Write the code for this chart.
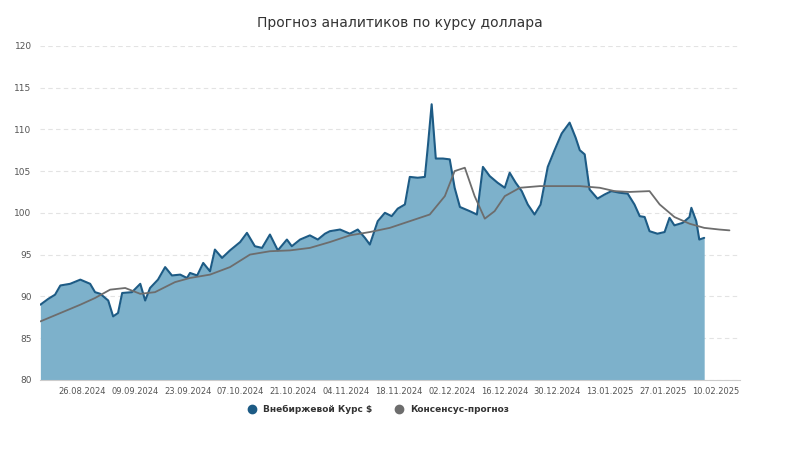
import numpy as np, pandas as pd, matplotlib
matplotlib.use("Agg")
import matplotlib.pyplot as plt, seaborn as sns
from matplotlib.lines import Line2D

base = pd.Timestamp("2024-08-26")
rate_days = [-11.1,-9,-7.2,-5.8,-3.2,-0.5,2.1,3.4,4.8,6.9,8.2,9.5,10.6,13.2,15.4,16.7,18,20.1,22,23.8,26,27.8,28.6,30.5,32.1,33.9,35.2,37.1,39.2,41.9,43.7,45.8,47.7,49.8,51.9,54.3,55.6,57.8,60.4,62.5,64.4,65.7,68.4,71,73.1,75,76.3,78.4,80.3,82.1,83.7,85.6,86.9,89,90.9,91.7,92.7,93.8,95.7,97.5,98.8,100.2,102.8,104.7,106.3,108.1,110.2,112.1,113.4,115,116.6,118.2,120,121.6,123.5,125.3,127.2,129.3,130.9,132,133.3,134.6,136.7,138.6,140.4,142.6,144.7,146.5,147.9,149.2,150.5,152.6,154.5,155.8,157.1,159.3,161.1,161.6,162.9,163.7,165]
rate_vals = [89,89.7,90.2,91.3,91.5,92,91.5,90.5,90.3,89.5,87.6,88,90.4,90.5,91.5,89.5,91,92,93.5,92.5,92.6,92.2,92.8,92.5,94,93,95.6,94.6,95.5,96.5,97.6,96,95.8,97.4,95.5,96.8,96,96.8,97.3,96.8,97.5,97.8,98,97.5,98,97,96.2,99,100,99.6,100.5,101,104.3,104.2,104.3,108,113,106.5,106.5,106.4,103,100.7,100.2,99.8,105.5,104.4,103.6,103,104.8,103.6,102.6,101,99.8,101,105.5,107.5,109.5,110.8,109,107.5,107,102.8,101.7,102.2,102.6,102.4,102.3,101,99.6,99.5,97.8,97.5,97.7,99.4,98.5,98.8,99.5,100.6,99,96.8,97]
cons_days = [-11.1,-5.8,-0.5,3.4,7.4,11.4,15.4,19.3,24.6,28.6,33.9,39.2,44.5,49.8,55.1,60.4,65.7,71,76.3,81.6,86.9,92.2,96.2,98.8,101.5,104.1,106.8,109.4,112.1,116.1,121.4,126.7,132,137.3,141.2,145.2,150.5,153.2,157.1,161.1,165,169,171.7]
cons_vals = [87,88,89,89.8,90.8,91,90.3,90.5,91.7,92.2,92.6,93.5,95,95.4,95.5,95.8,96.5,97.3,97.7,98.2,99,99.8,102,105,105.4,102,99.3,100.2,102,103,103.2,103.2,103.2,103,102.6,102.5,102.6,101,99.5,98.7,98.2,98,97.9]
tick_labels = ["26.08.2024","09.09.2024","23.09.2024","07.10.2024","21.10.2024","04.11.2024","18.11.2024","02.12.2024","16.12.2024","30.12.2024","13.01.2025","27.01.2025","10.02.2025"]

rate = pd.DataFrame({"date": base + pd.to_timedelta(rate_days, unit="D"), "v": rate_vals})
cons = pd.DataFrame({"date": base + pd.to_timedelta(cons_days, unit="D"), "v": cons_vals})

sns.set_style("white")
fig = plt.figure(figsize=(8, 4.49), dpi=100)
ax = fig.add_axes([0.05, 0.154, 0.875, 0.744])
blue, fillc, gray = "#1d5b85", "#7db1cb", "#6d6d6d"
ax.fill_between(rate["date"], 80, rate["v"], color=fillc, lw=0)
sns.lineplot(data=rate, x="date", y="v", ax=ax, color=blue, lw=1.5)
sns.lineplot(data=cons, x="date", y="v", ax=ax, color=gray, lw=1.3)
ax.set_ylim(80, 120)
ax.set_xlim(base + pd.Timedelta(days=-11.2), base + pd.Timedelta(days=174.5))
ax.set_yticks(range(80, 121, 5))
ticks = pd.to_datetime(tick_labels, format="%d.%m.%Y")
ax.set_xticks(ticks)
ax.set_xticklabels(tick_labels, fontsize=6, color="#555")
ax.tick_params(axis="y", labelsize=6.5, colors="#555", length=0, pad=6)
ax.tick_params(axis="x", length=3, color="#ccc", pad=2)
ax.grid(axis="y", color="#e3e3e3", ls=(0, (4, 3)), lw=0.8)
ax.set_axisbelow(True)
for s in ["left", "right", "top"]:
    ax.spines[s].set_visible(False)
ax.spines["bottom"].set_color("#ccc")
ax.set_xlabel(""); ax.set_ylabel("")
fig.suptitle("Прогноз аналитиков по курсу доллара", y=0.965, fontsize=10, color="#333")
h = [Line2D([], [], marker="o", ls="", color=blue, ms=6),
     Line2D([], [], marker="o", ls="", color=gray, ms=6)]
fig.legend(h, ["Внебиржевой Курс $", "Консенсус-прогноз"], loc="center", bbox_to_anchor=(0.47, 0.087),
           ncol=2, frameon=False, prop={"size": 6.5, "weight": "bold"}, labelcolor="#333",
           handletextpad=0.2, columnspacing=2)
fig.savefig("out.png", dpi=100)
